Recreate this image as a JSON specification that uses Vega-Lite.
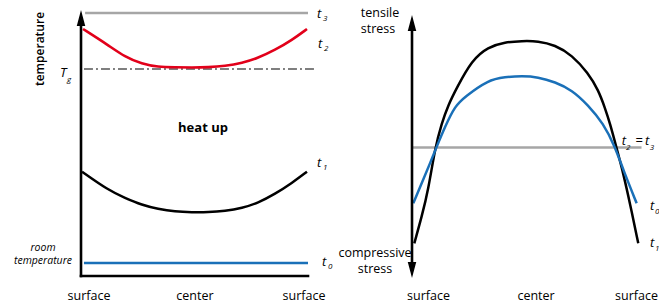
{
  "$schema": "https://vega.github.io/schema/vega-lite/v6.json",
  "width": 659,
  "height": 305,
  "autosize": "none",
  "padding": 0,
  "config": {"view": {"stroke": null}, "font": "Open Sans"},
  "datasets": {
    "leftCurves": [
      {"series": "t3", "x": -0.964, "y": 98.87}, {"series": "t3", "x": 1.0, "y": 98.87},
      {"series": "Tg", "x": -0.974, "y": 77.82}, {"series": "Tg", "x": 1.062, "y": 77.82},
      {"series": "t0", "x": -0.974, "y": 4.89}, {"series": "t0", "x": 1.0, "y": 4.89},
      {"series": "t2", "x": -0.982, "y": 92.86}, {"series": "t2", "x": -0.762, "y": 86.84},
      {"series": "t2", "x": -0.612, "y": 82.33}, {"series": "t2", "x": -0.463, "y": 79.7},
      {"series": "t2", "x": -0.322, "y": 78.57}, {"series": "t2", "x": -0.172, "y": 78.46},
      {"series": "t2", "x": -0.022, "y": 78.38}, {"series": "t2", "x": 0.119, "y": 78.46},
      {"series": "t2", "x": 0.269, "y": 78.95}, {"series": "t2", "x": 0.419, "y": 80.08},
      {"series": "t2", "x": 0.559, "y": 81.95}, {"series": "t2", "x": 0.709, "y": 84.96},
      {"series": "t2", "x": 0.859, "y": 88.72}, {"series": "t2", "x": 0.991, "y": 92.86},
      {"series": "t1", "x": -0.991, "y": 39.21}, {"series": "t1", "x": -0.762, "y": 32.33},
      {"series": "t1", "x": -0.612, "y": 29.32}, {"series": "t1", "x": -0.463, "y": 26.69},
      {"series": "t1", "x": -0.322, "y": 25.19}, {"series": "t1", "x": -0.172, "y": 24.17},
      {"series": "t1", "x": -0.022, "y": 23.95}, {"series": "t1", "x": 0.119, "y": 23.95},
      {"series": "t1", "x": 0.269, "y": 24.44}, {"series": "t1", "x": 0.419, "y": 25.56},
      {"series": "t1", "x": 0.559, "y": 27.44}, {"series": "t1", "x": 0.709, "y": 30.83},
      {"series": "t1", "x": 0.859, "y": 34.96}, {"series": "t1", "x": 0.991, "y": 39.21}
    ],
    "leftAxes": [
      {"x": -1, "x2": -1, "y": 0, "y2": 96},
      {"x": -1, "x2": 1.0, "y": 0, "y2": 0}
    ],
    "leftArrows": [{"x": -1, "y": 97.0, "dir": "up"}],
    "leftText": [
      {"style": "title", "x": -1.361, "y": 85.34, "text": "temperature"},
      {"style": "tick", "x": -0.93, "y": -9.02, "text": "surface"},
      {"style": "tick", "x": 0.004, "y": -9.02, "text": "center"},
      {"style": "tick", "x": 0.965, "y": -9.02, "text": "surface"},
      {"style": "bold", "x": 0.075, "y": 54.14, "text": "heat up"},
      {"style": "note", "x": -1.335, "y": 9.4, "text": "room"},
      {"style": "note", "x": -1.335, "y": 4.51, "text": "temperature"},
      {"style": "t", "x": -1.185, "y": 74.81, "text": "T"},
      {"style": "t", "x": 1.079, "y": 96.99, "text": "t"},
      {"style": "t", "x": 1.088, "y": 85.71, "text": "t"},
      {"style": "t", "x": 1.079, "y": 40.98, "text": "t"},
      {"style": "t", "x": 1.123, "y": 3.76, "text": "t"},
      {"style": "sub", "x": -1.123, "y": 72.93, "text": "g"},
      {"style": "sub", "x": 1.132, "y": 95.86, "text": "3"},
      {"style": "sub", "x": 1.141, "y": 84.59, "text": "2"},
      {"style": "sub", "x": 1.132, "y": 39.85, "text": "1"},
      {"style": "sub", "x": 1.176, "y": 2.63, "text": "0"}
    ],
    "rightCurves": [
      {"series": "t23", "x": -1.0, "y": 0}, {"series": "t23", "x": 0.987, "y": 0},
      {"series": "t1", "x": -0.98, "y": -9.58}, {"series": "t1", "x": -0.916, "y": -6.92},
      {"series": "t1", "x": -0.859, "y": -4.25}, {"series": "t1", "x": -0.801, "y": -0.08},
      {"series": "t1", "x": -0.743, "y": 2.42}, {"series": "t1", "x": -0.686, "y": 4.25},
      {"series": "t1", "x": -0.613, "y": 5.95}, {"series": "t1", "x": -0.481, "y": 8.75},
      {"series": "t1", "x": -0.342, "y": 10.05}, {"series": "t1", "x": -0.195, "y": 10.55},
      {"series": "t1", "x": -0.048, "y": 10.65}, {"series": "t1", "x": 0.091, "y": 10.65},
      {"series": "t1", "x": 0.238, "y": 10.25}, {"series": "t1", "x": 0.385, "y": 9.25},
      {"series": "t1", "x": 0.524, "y": 7.45}, {"series": "t1", "x": 0.613, "y": 5.75},
      {"series": "t1", "x": 0.671, "y": 3.95}, {"series": "t1", "x": 0.714, "y": 2.42},
      {"series": "t1", "x": 0.772, "y": -0.08}, {"series": "t1", "x": 0.829, "y": -2.58},
      {"series": "t1", "x": 0.887, "y": -5.58}, {"series": "t1", "x": 0.959, "y": -9.58},
      {"series": "t0", "x": -0.989, "y": -5.58}, {"series": "t0", "x": -0.916, "y": -3.58},
      {"series": "t0", "x": -0.844, "y": -1.58}, {"series": "t0", "x": -0.786, "y": 0.08},
      {"series": "t0", "x": -0.714, "y": 2.08}, {"series": "t0", "x": -0.628, "y": 4.15},
      {"series": "t0", "x": -0.541, "y": 5.08}, {"series": "t0", "x": -0.342, "y": 6.75},
      {"series": "t0", "x": -0.195, "y": 7.05}, {"series": "t0", "x": -0.048, "y": 7.15},
      {"series": "t0", "x": 0.091, "y": 7.05}, {"series": "t0", "x": 0.238, "y": 6.55},
      {"series": "t0", "x": 0.385, "y": 5.75}, {"series": "t0", "x": 0.524, "y": 4.25},
      {"series": "t0", "x": 0.656, "y": 2.42}, {"series": "t0", "x": 0.758, "y": 0.08},
      {"series": "t0", "x": 0.829, "y": -2.25}, {"series": "t0", "x": 0.945, "y": -5.58}
    ],
    "rightAxes": [{"x": -1, "x2": -1, "y": 12.0, "y2": -12.0}],
    "rightArrows": [
      {"x": -1, "y": 12.45, "dir": "up"},
      {"x": -1, "y": -12.25, "dir": "down"}
    ],
    "rightText": [
      {"style": "tick", "x": -1.277, "y": 13.05, "text": "tensile"},
      {"style": "tick", "x": -1.294, "y": 11.45, "text": "stress"},
      {"style": "tick", "x": -1.32, "y": -10.95, "text": "compressive"},
      {"style": "tick", "x": -1.32, "y": -12.55, "text": "stress"},
      {"style": "tick", "x": -0.857, "y": -15.25, "text": "surface"},
      {"style": "tick", "x": 0.074, "y": -15.25, "text": "center"},
      {"style": "tick", "x": 0.944, "y": -15.25, "text": "surface"},
      {"style": "eq", "x": 0.935, "y": 0.25, "text": "="},
      {"style": "t", "x": 0.816, "y": 0.25, "text": "t"},
      {"style": "t", "x": 1.017, "y": 0.25, "text": "t"},
      {"style": "t", "x": 1.061, "y": -6.25, "text": "t"},
      {"style": "t", "x": 1.061, "y": -9.95, "text": "t"},
      {"style": "sub", "x": 0.853, "y": -0.25, "text": "2"},
      {"style": "sub", "x": 1.058, "y": -0.25, "text": "3"},
      {"style": "sub", "x": 1.104, "y": -6.65, "text": "0"},
      {"style": "sub", "x": 1.104, "y": -10.35, "text": "1"}
    ]
  },
  "layer": [
    {
      "encoding": {
        "x": {"field": "x", "type": "quantitative", "scale": {"domain": [-1.7137, 4.0925], "nice": false, "zero": false}, "axis": null},
        "y": {"field": "y", "type": "quantitative", "scale": {"domain": [-10.9, 103.76], "nice": false, "zero": false}, "axis": null}
      },
      "layer": [
        {"data": {"name": "leftCurves"}, "transform": [{"filter": "datum.series == 't3'"}],
         "mark": {"type": "line", "color": "#a6a6a6", "strokeWidth": 2.5}},
        {"data": {"name": "leftCurves"}, "transform": [{"filter": "datum.series == 'Tg'"}],
         "mark": {"type": "line", "color": "#000000", "strokeWidth": 1.1, "strokeDash": [9, 3, 2, 3]}},
        {"data": {"name": "leftCurves"}, "transform": [{"filter": "datum.series == 't2'"}],
         "mark": {"type": "line", "color": "#e2001a", "strokeWidth": 2.6, "interpolate": "basis"}},
        {"data": {"name": "leftCurves"}, "transform": [{"filter": "datum.series == 't1'"}],
         "mark": {"type": "line", "color": "#000000", "strokeWidth": 2.5, "interpolate": "basis"}},
        {"data": {"name": "leftCurves"}, "transform": [{"filter": "datum.series == 't0'"}],
         "mark": {"type": "line", "color": "#1a70b8", "strokeWidth": 2.5}},
        {"data": {"name": "leftAxes"},
         "mark": {"type": "rule", "color": "#000000", "strokeWidth": 2.6, "strokeCap": "square"},
         "encoding": {"x2": {"field": "x2"}, "y2": {"field": "y2"}}},
        {"data": {"name": "leftArrows"},
         "mark": {"type": "point", "filled": true, "color": "#000000", "opacity": 1, "size": 256},
         "encoding": {"shape": {"field": "dir", "type": "nominal", "legend": null,
           "scale": {"domain": ["up", "down"], "range": ["M0,-1L0.53,1L-0.53,1Z", "M0,1L0.53,-1L-0.53,-1Z"]}}}},
        {"data": {"name": "leftText"}, "transform": [{"filter": "datum.style == 'title'"}],
         "mark": {"type": "text", "angle": 270, "fontSize": 12, "fontWeight": 600, "align": "center", "baseline": "middle", "color": "#000000"},
         "encoding": {"text": {"field": "text"}}},
        {"data": {"name": "leftText"}, "transform": [{"filter": "datum.style == 'tick'"}],
         "mark": {"type": "text", "fontSize": 12.5, "align": "center", "baseline": "alphabetic", "color": "#000000"},
         "encoding": {"text": {"field": "text"}}},
        {"data": {"name": "leftText"}, "transform": [{"filter": "datum.style == 'bold'"}],
         "mark": {"type": "text", "fontSize": 13, "fontWeight": "bold", "align": "center", "baseline": "alphabetic", "color": "#000000"},
         "encoding": {"text": {"field": "text"}}},
        {"data": {"name": "leftText"}, "transform": [{"filter": "datum.style == 'note'"}],
         "mark": {"type": "text", "fontSize": 10.5, "fontStyle": "italic", "align": "center", "baseline": "alphabetic", "color": "#000000"},
         "encoding": {"text": {"field": "text"}}},
        {"data": {"name": "leftText"}, "transform": [{"filter": "datum.style == 't'"}],
         "mark": {"type": "text", "fontSize": 13, "fontStyle": "italic", "align": "left", "baseline": "alphabetic", "color": "#000000"},
         "encoding": {"text": {"field": "text"}}},
        {"data": {"name": "leftText"}, "transform": [{"filter": "datum.style == 'sub'"}],
         "mark": {"type": "text", "fontSize": 8, "fontStyle": "italic", "align": "left", "baseline": "alphabetic", "color": "#000000"},
         "encoding": {"text": {"field": "text"}}}
      ]
    },
    {
      "encoding": {
        "x": {"field": "x", "type": "quantitative", "scale": {"domain": [-4.5671, 1.1385], "nice": false, "zero": false}, "axis": null},
        "y": {"field": "y", "type": "quantitative", "scale": {"domain": [-15.75, 14.75], "nice": false, "zero": false}, "axis": null}
      },
      "layer": [
        {"data": {"name": "rightCurves"}, "transform": [{"filter": "datum.series == 't23'"}],
         "mark": {"type": "line", "color": "#a6a6a6", "strokeWidth": 2.5}},
        {"data": {"name": "rightCurves"}, "transform": [{"filter": "datum.series == 't1'"}],
         "mark": {"type": "line", "color": "#000000", "strokeWidth": 2.5, "interpolate": "basis"}},
        {"data": {"name": "rightCurves"}, "transform": [{"filter": "datum.series == 't0'"}],
         "mark": {"type": "line", "color": "#1a70b8", "strokeWidth": 2.5, "interpolate": "basis"}},
        {"data": {"name": "rightAxes"},
         "mark": {"type": "rule", "color": "#000000", "strokeWidth": 2.6},
         "encoding": {"x2": {"field": "x2"}, "y2": {"field": "y2"}}},
        {"data": {"name": "rightArrows"},
         "mark": {"type": "point", "filled": true, "color": "#000000", "opacity": 1, "size": 256},
         "encoding": {"shape": {"field": "dir", "type": "nominal", "legend": null,
           "scale": {"domain": ["up", "down"], "range": ["M0,-1L0.53,1L-0.53,1Z", "M0,1L0.53,-1L-0.53,-1Z"]}}}},
        {"data": {"name": "rightText"}, "transform": [{"filter": "datum.style == 'tick'"}],
         "mark": {"type": "text", "fontSize": 12.5, "align": "center", "baseline": "alphabetic", "color": "#000000"},
         "encoding": {"text": {"field": "text"}}},
        {"data": {"name": "rightText"}, "transform": [{"filter": "datum.style == 'eq'"}],
         "mark": {"type": "text", "fontSize": 13, "align": "left", "baseline": "alphabetic", "color": "#000000"},
         "encoding": {"text": {"field": "text"}}},
        {"data": {"name": "rightText"}, "transform": [{"filter": "datum.style == 't'"}],
         "mark": {"type": "text", "fontSize": 13, "fontStyle": "italic", "align": "left", "baseline": "alphabetic", "color": "#000000"},
         "encoding": {"text": {"field": "text"}}},
        {"data": {"name": "rightText"}, "transform": [{"filter": "datum.style == 'sub'"}],
         "mark": {"type": "text", "fontSize": 8, "fontStyle": "italic", "align": "left", "baseline": "alphabetic", "color": "#000000"},
         "encoding": {"text": {"field": "text"}}}
      ]
    }
  ],
  "resolve": {"scale": {"x": "independent", "y": "independent", "shape": "independent"}}
}
